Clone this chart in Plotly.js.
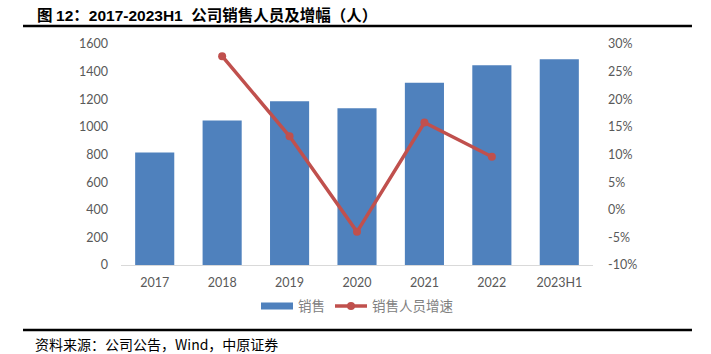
<!DOCTYPE html>
<html>
<head>
<meta charset="utf-8">
<script src="https://cdn.plot.ly/plotly-3.0.1.min.js"></script>
<style>html,body{margin:0;padding:0;background:#fff;}#chart{width:711px;height:354px;}</style>
</head>
<body>
<div id="chart"></div>
<script>
const categories = ['2017','2018','2019','2020','2021','2022','2023H1'];
const salesStaff = [815, 1047, 1185, 1134, 1320, 1446, 1489];
const staffGrowth = [null, 0.278, 0.133, -0.040, 0.158, 0.096, null];
const leftTicks = [0, 200, 400, 600, 800, 1000, 1200, 1400, 1600];
const rightTickVals = [-0.10, -0.05, 0, 0.05, 0.10, 0.15, 0.20, 0.25, 0.30];
const rightTickText = ['-10%', '-5%', '0%', '5%', '10%', '15%', '20%', '25%', '30%'];

const tickFont = {family: 'Lato, "Open Sans", sans-serif', size: 12.5, color: '#595959'};
const cjk = '"Noto Sans CJK SC", sans-serif';

const traces = [
  {
    type: 'bar', name: '销售', x: categories, y: salesStaff,
    marker: {color: '#4f81bd'}, yaxis: 'y', showlegend: false
  },
  {
    // legend proxy for the bar series (wide flat swatch as in the reference)
    type: 'scatter', mode: 'lines', name: '销售', x: [null], y: [null], yaxis: 'y',
    line: {color: '#4f81bd', width: 7}, showlegend: true, hoverinfo: 'skip'
  },
  {
    type: 'scatter', mode: 'lines+markers', name: '销售人员增速',
    x: categories, y: staffGrowth, yaxis: 'y2',
    line: {color: '#c0504d', width: 3.5}, marker: {color: '#c0504d', size: 8},
    connectgaps: false
  }
];

const titleText = '<b>图 <span style="font-family:Liberation Sans">12</span>：' +
  '<span style="font-family:Liberation Sans">2017-2023H1  </span>公司销售人员及增幅（人）</b>';

const layout = {
  width: 711, height: 354,
  margin: {l: 121, r: 118, t: 44, b: 89},
  paper_bgcolor: '#fff', plot_bgcolor: '#fff',
  bargap: 0.42,
  showlegend: true,
  legend: {orientation: 'h', x: 0.5, xanchor: 'center', y: -0.186, yanchor: 'middle',
           font: {family: cjk, size: 13.5, color: '#808080'}, itemwidth: 32, tracegroupgap: 0},
  xaxis: {type: 'category', showgrid: false, showline: true, linecolor: '#d9d9d9', linewidth: 1,
          ticks: '', tickfont: tickFont, ticklabelstandoff: 6, zeroline: false},
  yaxis: {range: [0, 1600], tickvals: leftTicks, showgrid: false, zeroline: false, showline: false,
          ticks: '', tickfont: tickFont, ticklabelstandoff: 12},
  yaxis2: {overlaying: 'y', side: 'right', range: [-0.10, 0.30], tickvals: rightTickVals, ticktext: rightTickText,
           showgrid: false, zeroline: false, showline: false, ticks: '', tickfont: tickFont, ticklabelstandoff: 14},
  annotations: [
    {xref: 'paper', yref: 'paper', x: -0.1822, y: 1.1357, xanchor: 'left', yanchor: 'middle', showarrow: false,
     text: titleText, font: {family: cjk, size: 15.5, color: '#000'}},
    {xref: 'paper', yref: 'paper', x: -0.1864, y: -0.3575, xanchor: 'left', yanchor: 'middle', showarrow: false,
     text: '资料来源：公司公告，Wind，中原证券', font: {family: cjk, size: 14, color: '#000'}}
  ],
  shapes: [
    {type: 'line', xref: 'paper', yref: 'paper', x0: -0.2076, x1: 1.2097, y0: 1.0814, y1: 1.0814,
     line: {color: '#000', width: 2.5}},
    {type: 'line', xref: 'paper', yref: 'paper', x0: -0.2076, x1: 1.2097, y0: -0.2941, y1: -0.2941,
     line: {color: '#000', width: 2.5}}
  ]
};

Plotly.newPlot('chart', traces, layout, {displayModeBar: false, staticPlot: true});
</script>
</body>
</html>
